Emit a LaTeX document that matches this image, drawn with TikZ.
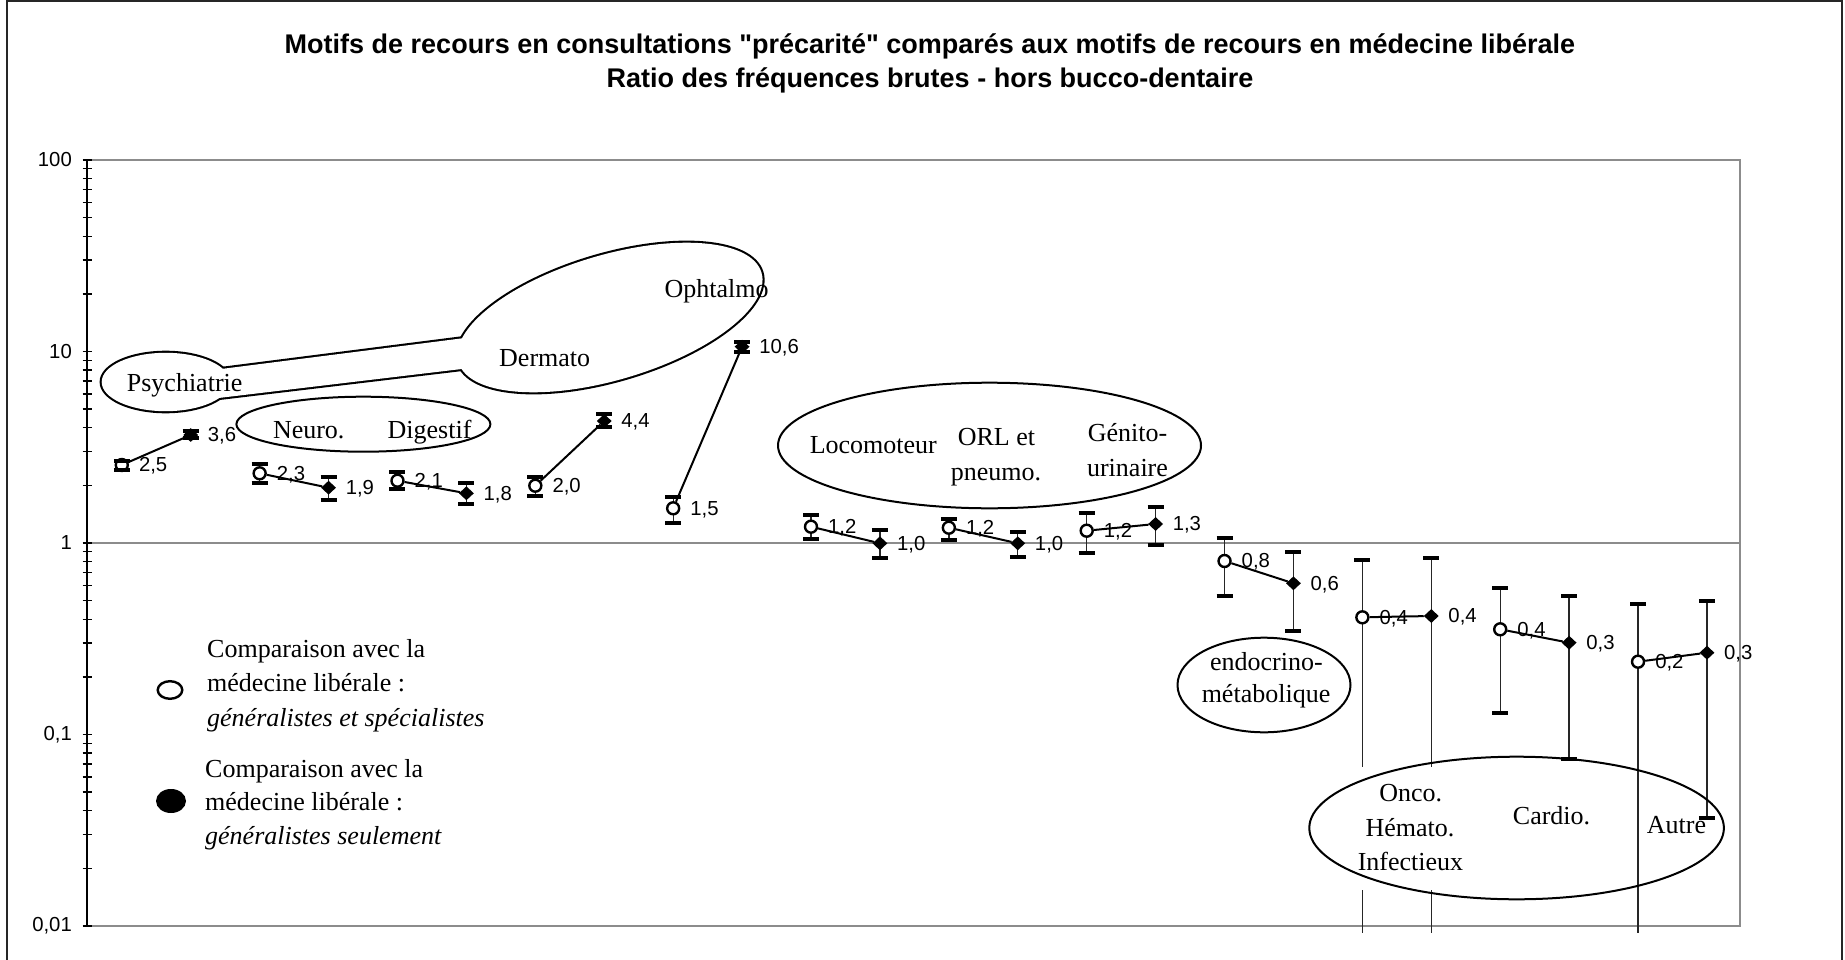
\documentclass[tikz,border=0pt]{standalone}
\usepackage{fontspec}
\setmainfont{Liberation Serif}
\newfontfamily\arialf{Liberation Sans}
\usetikzlibrary{shapes.geometric}
\begin{document}
\begin{tikzpicture}[x=1pt,y=-1pt,
  outerframe/.style={line width=2pt, draw=black!85},
  plotframe/.style={line width=2.2pt, draw=black!45},
  axisline/.style={line width=2pt, draw=black},
  tickmark/.style={line width=1.4pt, draw=black},
  axlab/.style={font=\arialf\fontsize{20.3}{23}\selectfont, inner sep=0pt, anchor=east},
  ebar/.style={line width=1.3pt, draw=black!85},
  ecap/.style={line width=4pt, draw=black},
  opencirc/.style={circle, draw=black, line width=2.4pt, fill=white, minimum size=12pt, inner sep=0pt},
  fulldiam/.style={diamond, fill=black, minimum width=15pt, minimum height=14pt, inner sep=0pt},
  vlabel/.style={font=\arialf\fontsize{20.3}{23}\selectfont, inner sep=0pt, anchor=base west},
  zone/.style={line width=2pt, draw=black},
  zonethick/.style={line width=4.2pt, draw=black},
  ztext/.style={font=\fontsize{26}{30}\selectfont, inner sep=0pt, anchor=base},
  ztextw/.style={font=\fontsize{26}{30}\selectfont, inner sep=0pt, anchor=base west},
  link/.style={line width=2pt, draw=black},
  titlef/.style={font=\arialf\bfseries\fontsize{27}{31}\selectfont, inner sep=0pt, anchor=base},
  legtext/.style={font=\fontsize{26}{30}\selectfont, inner sep=0pt, anchor=base west}
]
\useasboundingbox (0,0) rectangle (1845,960);
\fill[white] (0,0) rectangle (1845,960);

% outer frame
\draw[outerframe] (7,960) -- (7,1.5) -- (1842,1.5) -- (1842,960);

% plot area
\draw[plotframe] (87,160) rectangle (1740,926);
\draw[plotframe] (87,543) -- (1740,543);
\draw[axisline] (87,160) -- (87,926);
\foreach \d in {0,1,2,3}{
  \foreach \m in {1,...,9}{
    \pgfmathsetmacro\ty{926-191.5*(\d+ln(\m)/ln(10))}
    \draw[tickmark] (82.5,\ty) -- (91.5,\ty);
  }
}
\draw[tickmark] (82.5,160) -- (91.5,160);
\node[axlab] (y100) at (72,160) {100};
\node[axlab] (y10) at (72,351.5) {10};
\node[axlab] (y1) at (72,543) {1};
\node[axlab] (y01) at (72,734.5) {0,1};
\node[axlab] (y001) at (72,926) {0,01};

% Psychiatrie / Dermato / Ophtalmo callout (union outline)
\draw[zonethick] (165.7,382) ellipse [x radius=64, y radius=29.2];
\draw[zonethick] (196,372.2) -- (486,335.3) -- (486,366.1) -- (196,400.7) -- cycle;
\draw[zonethick, rotate around={16.5:(610,317.5)}] (610,317.5) ellipse [x radius=158, y radius=62.4];
\fill[white] (165.7,382) ellipse [x radius=64, y radius=29.2];
\fill[white] (196,372.2) -- (486,335.3) -- (486,366.1) -- (196,400.7) -- cycle;
\fill[white, rotate around={16.5:(610,317.5)}] (610,317.5) ellipse [x radius=158, y radius=62.4];

% other zones
\draw[zone] (363.4,424.2) ellipse [x radius=127, y radius=27.5];
\draw[zone] (989.5,445.5) ellipse [x radius=211.5, y radius=62.8];
\draw[zone] (1264,685) ellipse [x radius=86.5, y radius=47.3];

% error bar lines
\foreach \i/\yt/\yb in {0/461/470, 2/464/482.7, 4/472/489, 6/476.7/496, 8/497/523,
  10/515/539, 12/519/540, 14/513.3/552.7, 16/537.7/595.7, 18/560/933, 20/588.3/712.7, 22/604/933,
  1/431/438, 3/476.7/500, 5/483/504, 7/414/426.7, 9/341.7/351.7, 11/530/558.3, 13/531.7/557.3,
  15/507.3/545, 17/552.3/631, 19/558.3/933, 21/596/759.3, 23/600.7/818.3}{
  \draw[ebar] ({121.8+68.92*\i},\yt) -- ({121.8+68.92*\i},\yb);
}

% white text box hiding bars behind Onco text
\fill[white] (1350,767) rectangle (1472,890);
\draw[zone] (1516.6,828) ellipse [x radius=207.3, y radius=71.3];

% markers and labels
\foreach \i/\yv/\lab in {0/465/{2,5}, 2/473.3/{2,3}, 4/480.7/{2,1}, 6/485.7/{2,0}, 8/508.3/{1,5},
  10/526.7/{1,2}, 12/527.7/{1,2}, 14/530.7/{1,2}, 16/561/{0,8}, 18/617.3/{0,4}, 20/629.3/{0,4}, 22/661.7/{0,2}}{
  \node[opencirc] (c\i) at ({121.8+68.92*\i},\yv) {};
  \node[vlabel] (l\i) at ({121.8+68.92*\i+17},{\yv+6.8}) {\lab};
}
\foreach \i/\yv/\lab in {1/435/{3,6}, 3/487.7/{1,9}, 5/493.3/{1,8}, 7/421/{4,4}, 9/346.7/{10,6},
  11/543.3/{1,0}, 13/543.3/{1,0}, 15/524/{1,3}, 17/583.3/{0,6}, 19/616/{0,4}, 21/642.7/{0,3}, 23/652.7/{0,3}}{
  \node[fulldiam] (d\i) at ({121.8+68.92*\i},\yv) {};
  \node[vlabel] (l\i) at ({121.8+68.92*\i+17},{\yv+6.8}) {\lab};
}

% error bar caps
\foreach \i/\yc in {0/461, 0/470, 2/464, 2/482.7, 4/472, 4/489, 6/476.7, 6/496, 8/497, 8/523,
  10/515, 10/539, 12/519, 12/540, 14/513.3, 14/552.7, 16/537.7, 16/595.7, 18/560, 20/588.3, 20/712.7, 22/604,
  1/431, 1/438, 3/476.7, 3/500, 5/483, 5/504, 7/414, 7/426.7, 9/341.7, 9/351.7, 11/530, 11/558.3,
  13/531.7, 13/557.3, 15/507.3, 15/545, 17/552.3, 17/631, 19/558.3, 21/596, 21/759.3, 23/600.7, 23/818.3}{
  \draw[ecap] ({121.8+68.92*\i-8},\yc) -- ({121.8+68.92*\i+8},\yc);
}

% zone texts
\node[ztextw] (tpsy) at (126.7,391) {Psychiatrie};
\node[ztextw] (tneu) at (272.8,438.3) {Neuro.};
\node[ztextw] (tdig) at (387.5,438.3) {Digestif};
\node[ztextw] (tder) at (499,366.7) {Dermato};
\node[ztextw] (toph) at (664.3,297.7) {Ophtalmo};
\node[ztextw] (tloc) at (809.6,453.3) {Locomoteur};
\node[ztext] (torl1) at (996.4,445) {ORL et};
\node[ztext] (torl2) at (996,480) {pneumo.};
\node[ztext] (tgen1) at (1127.5,441.7) {Génito-};
\node[ztext] (tgen2) at (1127.5,476) {urinaire};
\node[ztext] (tend1) at (1266.4,670) {endocrino-};
\node[ztext] (tend2) at (1266,702.7) {métabolique};
\node[ztext] (tonc1) at (1410.8,801.7) {Onco.};
\node[ztext] (tonc2) at (1410,836.7) {Hémato.};
\node[ztext] (tonc3) at (1410.5,870) {Infectieux};
\node[ztextw] (tcar) at (1512.7,824) {Cardio.};
\node[ztextw] (taut) at (1646.7,833.3) {Autre};

% connecting lines
\foreach \a/\b in {0/1, 2/3, 4/5, 6/7, 8/9, 10/11, 12/13, 14/15, 16/17, 18/19, 20/21, 22/23}{
  \draw[link] (c\a) -- (d\b);
}

% legend
\draw[line width=2.4pt] (170,690) ellipse [x radius=12.3, y radius=8.8];
\fill[black] (171,801) ellipse [x radius=15, y radius=12];
\node[legtext] (lg1a) at (207,657) {Comparaison avec la};
\node[legtext] (lg1b) at (207,691.5) {médecine libérale :};
\node[legtext] (lg1c) at (207,726) {\itshape généralistes et spécialistes};
\node[legtext] (lg2a) at (205,777) {Comparaison avec la};
\node[legtext] (lg2b) at (205,810.5) {médecine libérale :};
\node[legtext] (lg2c) at (205,844) {\itshape généralistes seulement};

% title
\node[titlef] (title1) at (930,54) {Motifs de recours en consultations "précarité" comparés aux motifs de recours en médecine libérale};
\node[titlef] (title2) at (930,88) {Ratio des fréquences brutes - hors bucco-dentaire};
\end{tikzpicture}
\end{document}
